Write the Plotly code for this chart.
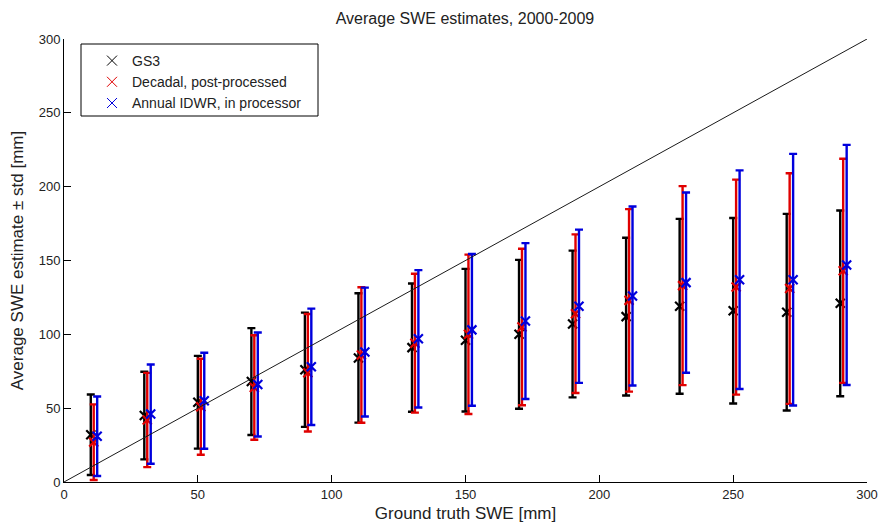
import plotly.graph_objects as go

# Ground truth SWE bins [mm]
truth = [10, 30, 50, 70, 90, 110, 130, 150, 170, 190, 210, 230, 250, 270, 290]

# GS3
gs3_mean = [32, 45, 54, 68, 76, 84, 91, 96, 100, 107, 112, 119, 116, 115, 121]
gs3_std = [27.3, 29.7, 31.4, 36.2, 38.7, 43.8, 43.4, 48.3, 50.4, 49.7, 53.4, 59.2, 62.8, 66.6, 62.9]

# Decadal, post-processed
dec_mean = [27, 42, 51, 64, 74, 86, 94, 100, 105, 114, 123, 133, 132, 131, 143]
dec_std = [25.6, 31.9, 32.5, 35.4, 39.8, 45.9, 47.0, 54.0, 53.0, 53.7, 61.8, 67.4, 72.8, 78.1, 75.9]

# Annual IDWR, in processor
idwr_mean = [31, 46, 55, 66, 78, 88, 97, 103, 109, 119, 126, 135, 137, 137, 147]
idwr_std = [26.9, 33.6, 32.5, 35.2, 39.4, 43.6, 46.5, 51.4, 52.8, 51.9, 60.6, 61.0, 74.0, 85.2, 81.3]

one_to_one = [0, 300]

series = [
    ("GS3", gs3_mean, gs3_std, "#000000", 0.0),
    ("Decadal, post-processed", dec_mean, dec_std, "#e00000", 1.1),
    ("Annual IDWR, in processor", idwr_mean, idwr_std, "#0000dd", 2.4),
]

# plot-area geometry (pixels) used for the legend frame
L, R, T, B = 64, 867, 39, 482
W, H = 878, 523
PW, PH = R - L, B - T


def px(x):
    return (x - L) / PW


def py(y):
    return (B - y) / PH


fig = go.Figure()
for name, m, s, col, off in series:
    fig.add_trace(go.Scatter(
        x=[t + off for t in truth], y=m, mode="markers", name=name,
        showlegend=False,
        marker=dict(symbol="x-thin-open", size=9, color=col,
                    line=dict(color=col, width=2.2)),
        error_y=dict(type="data", array=s, visible=True, color=col,
                     thickness=2.4, width=4),
    ))

fig.add_trace(go.Scatter(x=one_to_one, y=one_to_one, mode="lines",
                         line=dict(color="#1a1a1a", width=1),
                         showlegend=False, hoverinfo="skip"))

# legend entries with thin markers, as in the reference legend
for name, m, s, col, off in series:
    fig.add_trace(go.Scatter(
        x=[None], y=[None], mode="markers", name=name,
        marker=dict(symbol="x-thin-open", size=10, color=col,
                    line=dict(color=col, width=1)),
    ))

axis_common = dict(range=[0, 300], dtick=50, showline=True, linecolor="#000000",
                   linewidth=1, mirror=False, ticks="inside", ticklen=7,
                   tickcolor="#000000", showgrid=False, zeroline=False,
                   automargin=False,
                   tickfont=dict(size=13, color="#222222"))

fig.update_layout(
    width=W, height=H,
    margin=dict(l=L, r=W - R, t=T, b=H - B),
    paper_bgcolor="white", plot_bgcolor="white",
    font=dict(family="Liberation Sans, Arial, sans-serif", size=13, color="#222222"),
    title=dict(text="Average SWE estimates, 2000-2009", x=(465 / W), xanchor="center",
               y=1 - 18 / H, yanchor="middle", font=dict(size=16, color="#222222")),
    xaxis=dict(title=dict(text="Ground truth SWE [mm]", standoff=6,
                          font=dict(size=17)), **axis_common),
    yaxis=dict(title=dict(text="Average SWE estimate ± std [mm]", standoff=10,
                          font=dict(size=17)), **axis_common),
    legend=dict(x=px(92), y=py(45), xanchor="left", yanchor="top",
                bgcolor="rgba(0,0,0,0)", borderwidth=0,
                font=dict(size=14, color="#222222"),
                tracegroupgap=0, itemwidth=30),
    shapes=[dict(type="rect", xref="paper", yref="paper",
                 x0=px(81), x1=px(318), y0=py(116), y1=py(44),
                 line=dict(color="#000000", width=1), fillcolor="white",
                 layer="below")],
    showlegend=True,
)

fig.write_html("out.html")
